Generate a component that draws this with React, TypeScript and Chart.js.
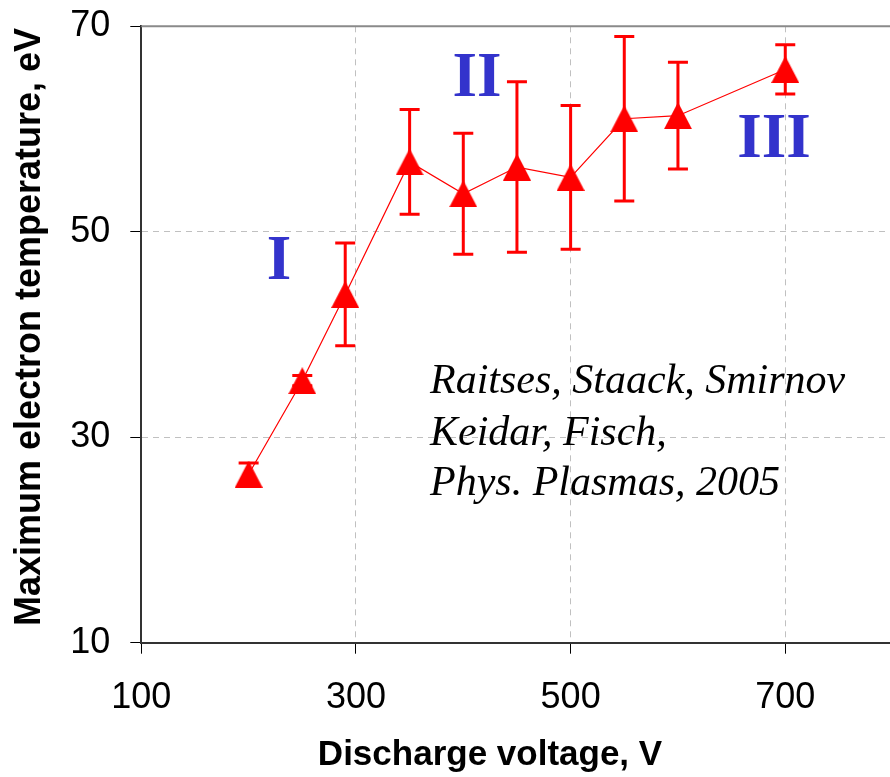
import React, { useEffect, useRef } from 'react';
import { Chart, registerables } from 'chart.js';

Chart.register(...registerables);

const voltages = [200, 250, 290, 350, 400, 450, 500, 550, 600, 700];
const temperatures = [26.4, 35.5, 43.9, 56.8, 53.7, 56.3, 55.3, 61.0, 61.3, 65.8];
const errors = [1.1, 0.5, 5.0, 5.1, 5.9, 8.3, 7.0, 8.0, 5.2, 2.4];
const xTicks = [100, 300, 500, 700];
const yTicks = [10, 30, 50, 70];
const xGridValues = [300, 500, 700];
const yGridValues = [30, 50];
const regionLabels = ['I', 'II', 'III'];
const citationLines = ['Raitses, Staack, Smirnov', 'Keidar, Fisch,', 'Phys. Plasmas, 2005'];
const xTitle = 'Discharge voltage, V';
const yTitle = 'Maximum electron temperature, eV';

const RED = '#FF0000';
const BLUE = '#3333CC';

function makeTriangle(): HTMLCanvasElement {
  const c = document.createElement('canvas');
  c.width = 28;
  c.height = 27;
  const g = c.getContext('2d')!;
  g.fillStyle = RED;
  g.beginPath();
  g.moveTo(14, 0);
  g.lineTo(28, 27);
  g.lineTo(0, 27);
  g.closePath();
  g.fill();
  return c;
}

const errorBarPlugin = {
  id: 'errorBars',
  beforeDatasetsDraw(chart: any) {
    const { ctx, scales } = chart;
    const xs = scales.x;
    const ys = scales.y;
    ctx.save();
    // top frame line
    ctx.strokeStyle = '#8a8a8a';
    ctx.lineWidth = 2;
    ctx.beginPath();
    ctx.moveTo(chart.chartArea.left, chart.chartArea.top);
    ctx.lineTo(chart.chartArea.right, chart.chartArea.top);
    ctx.stroke();

    ctx.strokeStyle = RED;
    ctx.lineWidth = 3;
    ctx.lineCap = 'butt';
    for (let i = 0; i < voltages.length; i++) {
      const x = xs.getPixelForValue(voltages[i]);
      const yt = ys.getPixelForValue(temperatures[i] + errors[i]);
      const yb = ys.getPixelForValue(temperatures[i] - errors[i]);
      ctx.beginPath();
      ctx.moveTo(x, yt);
      ctx.lineTo(x, yb);
      ctx.moveTo(x - 10, yt);
      ctx.lineTo(x + 10, yt);
      ctx.moveTo(x - 10, yb);
      ctx.lineTo(x + 10, yb);
      ctx.stroke();
    }
    ctx.restore();
  },
};

const textPlugin = {
  id: 'texts',
  afterDraw(chart: any) {
    const { ctx } = chart;
    ctx.save();
    // Region labels
    ctx.fillStyle = BLUE;
    ctx.font = 'bold 63px "Liberation Serif", "Times New Roman", serif';
    ctx.textAlign = 'center';
    ctx.textBaseline = 'alphabetic';
    const regionPos = [
      [279, 279],
      [477, 96],
      [774, 157],
    ];
    regionLabels.forEach((t, i) => ctx.fillText(t, regionPos[i][0], regionPos[i][1]));

    // Citation
    ctx.fillStyle = '#000';
    ctx.font = 'italic 42px "Liberation Serif", "Times New Roman", serif';
    ctx.textAlign = 'left';
    const baselines = [393, 445, 495];
    citationLines.forEach((t, i) => ctx.fillText(t, 430, baselines[i]));

    // Axis titles
    ctx.font = 'bold 35px "Liberation Sans", Arial, sans-serif';
    ctx.textAlign = 'center';
    ctx.fillText(xTitle, 490, 765);

    ctx.translate(40, 327);
    ctx.rotate(-Math.PI / 2);
    ctx.font = 'bold 36px "Liberation Sans", Arial, sans-serif';
    ctx.fillText(yTitle, 0, 0);
    ctx.restore();
  },
};

function zeroPadding(s: any) {
  s.paddingTop = 0;
  s.paddingBottom = 0;
  s.paddingLeft = 0;
  s.paddingRight = 0;
}

export default function App() {
  const ref = useRef<HTMLCanvasElement>(null);

  useEffect(() => {
    if (!ref.current) return;
    const tri = makeTriangle();
    const chart = new Chart(ref.current, {
      type: 'line',
      data: {
        datasets: [
          {
            data: voltages.map((v, i) => ({ x: v, y: temperatures[i] })),
            borderColor: RED,
            borderWidth: 1.2,
            backgroundColor: RED,
            pointStyle: tri as any,
            pointRadius: 14,
            pointHoverRadius: 14,
            tension: 0,
            fill: false,
          },
        ],
      },
      options: {
        animation: false,
        responsive: false,
        devicePixelRatio: 1,
        events: [],
        layout: { autoPadding: false, padding: { left: 0, top: 26.3, right: 7.4, bottom: 0 } },
        plugins: {
          legend: { display: false },
          tooltip: { enabled: false },
          title: { display: false },
        },
        scales: {
          x: {
            type: 'linear',
            min: 100,
            max: 800,
            afterBuildTicks: (s: any) => {
              s.ticks = xTicks.map((v) => ({ value: v }));
            },
            afterFit: (s: any) => {
              s.height = 134.3;
              zeroPadding(s);
            },
            ticks: {
              color: '#000',
              padding: 23,
              font: { family: '"Liberation Sans", Arial, sans-serif', size: 36 },
              maxRotation: 0,
              autoSkip: false,
            },
            grid: {
              color: (c: any) => (xGridValues.includes(c.tick?.value) ? '#c0c0c0' : 'rgba(0,0,0,0)'),
              lineWidth: 1,
              tickColor: '#000',
              tickLength: 11,
              tickWidth: 1,
            },
            border: { color: '#333', width: 2, dash: [6, 5] },
          },
          y: {
            type: 'linear',
            min: 10,
            max: 70,
            afterBuildTicks: (s: any) => {
              s.ticks = yTicks.map((v) => ({ value: v }));
            },
            afterFit: (s: any) => {
              s.width = 141.3;
              zeroPadding(s);
            },
            ticks: {
              color: '#000',
              padding: 20,
              font: { family: '"Liberation Sans", Arial, sans-serif', size: 36 },
            },
            grid: {
              color: (c: any) => (yGridValues.includes(c.tick?.value) ? '#c0c0c0' : 'rgba(0,0,0,0)'),
              lineWidth: 1,
              tickColor: '#000',
              tickLength: 11,
              tickWidth: 1,
            },
            border: { color: '#333', width: 2, dash: [6, 5] },
          },
        },
      },
      plugins: [errorBarPlugin, textPlugin],
    });
    return () => chart.destroy();
  }, []);

  return (
    <div
      style={{
        position: 'fixed',
        left: 0,
        top: 0,
        width: 890,
        height: 777,
        overflow: 'hidden',
        background: '#fff',
      }}
    >
      <canvas ref={ref} width={900} height={777} style={{ width: 900, height: 777, display: 'block' }} />
    </div>
  );
}
